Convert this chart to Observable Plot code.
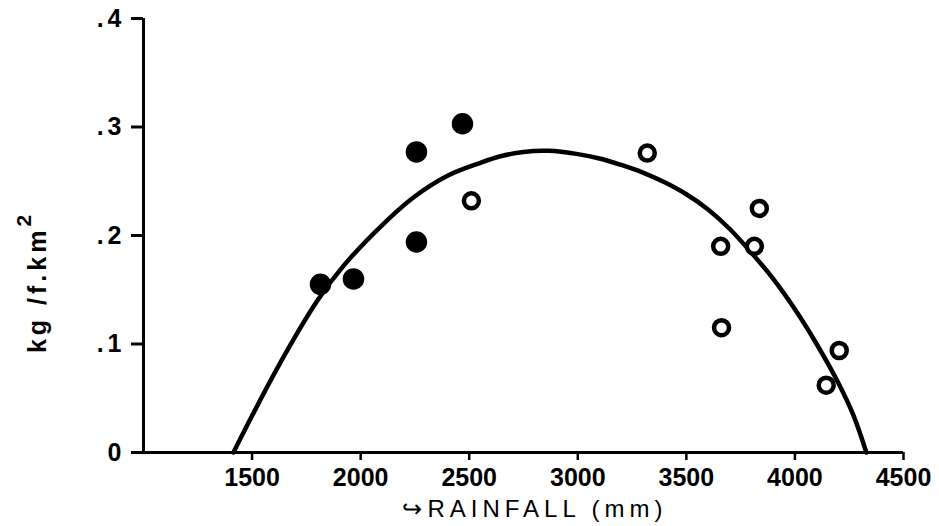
<!DOCTYPE html>
<html>
<head>
<meta charset="utf-8">
<script src="https://cdn.jsdelivr.net/npm/d3@7"></script>
<script src="https://cdn.jsdelivr.net/npm/@observablehq/plot@0.6"></script>
<style>
  html, body { margin: 0; padding: 0; background: white; }
  #chart svg { display: block; }
</style>
</head>
<body>
<div id="chart"></div>
<script>
// Filled circles
const filledRain = [1815, 1967, 2257, 2257, 2469];
const filledValue = [0.155, 0.160, 0.194, 0.277, 0.303];
// Open circles
const openRain = [2510, 3320, 3658, 3662, 3813, 3836, 4144, 4204];
const openValue = [0.232, 0.276, 0.190, 0.115, 0.190, 0.225, 0.062, 0.094];
// Fitted curve
const curveRain = [1414, 1617, 1801, 1921, 2091, 2243, 2400, 2552, 2644, 2750, 2865, 3000, 3100, 3200, 3300, 3400, 3500, 3600, 3700, 3800, 3900, 4000, 4100, 4200, 4270, 4329];
const curveValue = [0, 0.078, 0.140, 0.172, 0.208, 0.235, 0.255, 0.267, 0.273, 0.277, 0.278, 0.275, 0.271, 0.265, 0.258, 0.249, 0.238, 0.224, 0.206, 0.184, 0.160, 0.132, 0.100, 0.064, 0.034, 0];
// Ticks
const xTicks = [1500, 2000, 2500, 3000, 3500, 4000, 4500];
const xTickLabels = ["1500", "2000", "2500", "3000", "3500", "4000", "4500"];
const yTicks = [0, 0.1, 0.2, 0.3, 0.4];
const yTickLabels = ["0", ".1", ".2", ".3", ".4"];
const xLabel = "↪RAINFALL (mm)";
const yLabel = "kg /f.km";
const yLabelSup = "2";

const filled = filledRain.map((x, i) => ({x, y: filledValue[i]}));
const open = openRain.map((x, i) => ({x, y: openValue[i]}));
const curve = curveRain.map((x, i) => ({x, y: curveValue[i]}));

const chart = Plot.plot({
  width: 939,
  height: 526,
  marginLeft: 143,
  marginRight: 36,
  marginTop: 18,
  marginBottom: 74,
  style: {background: "white", color: "black", fontFamily: "'Liberation Sans', Arial, sans-serif"},
  x: {domain: [1000, 4500]},
  y: {domain: [0, 0.4]},
  marks: [
    Plot.axisX({ticks: xTicks, tickFormat: d => xTickLabels[xTicks.indexOf(d)], tickSize: 8, tickPadding: 8, strokeWidth: 2.5, label: null}),
    Plot.axisY({ticks: yTicks, tickFormat: d => yTickLabels[yTicks.indexOf(d)], tickSize: 12, tickPadding: 6, strokeWidth: 3, label: null}),
    Plot.ruleX([1000], {strokeWidth: 3}),
    Plot.ruleY([0], {strokeWidth: 3}),
    Plot.line(curve, {x: "x", y: "y", curve: "catmull-rom", strokeWidth: 4.5}),
    Plot.dot(filled, {x: "x", y: "y", r: 10, fill: "black", stroke: "black"}),
    Plot.dot(open, {x: "x", y: "y", r: 7.5, fill: "white", stroke: "black", strokeWidth: 4.5})
  ]
});

document.getElementById("chart").appendChild(chart);
const svg = d3.select(chart);
svg.selectAll('g[aria-label="x-axis tick label"]').attr("font-size", 25).attr("font-weight", "bold");
svg.selectAll('g[aria-label="y-axis tick label"]').attr("font-size", 25).attr("font-weight", "bold").attr("letter-spacing", 4);

svg.append("text")
  .attr("x", 535).attr("y", 517)
  .attr("text-anchor", "middle")
  .attr("font-size", 24)
  .attr("letter-spacing", 5)
  .attr("fill", "black")
  .text(xLabel);

const yl = svg.append("text")
  .attr("transform", "translate(46,282) rotate(-90)")
  .attr("text-anchor", "middle")
  .attr("font-size", 25)
  .attr("font-weight", "bold")
  .attr("letter-spacing", 4)
  .attr("fill", "black");
yl.append("tspan").text(yLabel);
yl.append("tspan").attr("dy", "-0.7em").attr("font-size", 21).text(yLabelSup);
</script>
</body>
</html>
